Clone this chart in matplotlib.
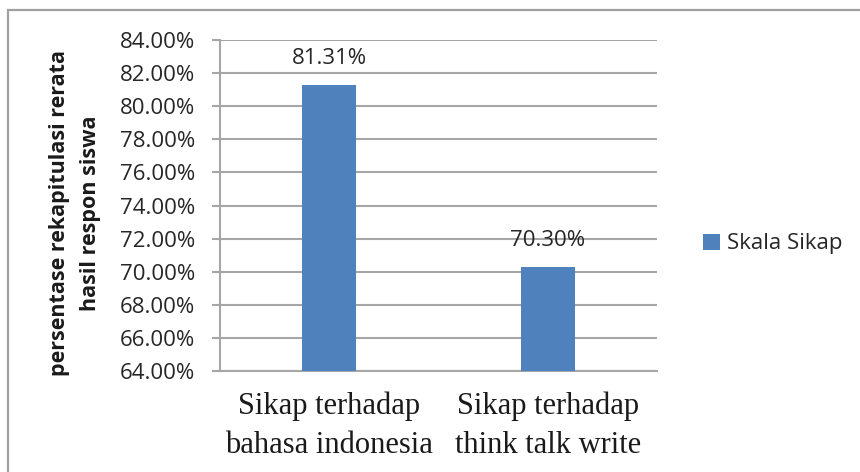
import matplotlib
matplotlib.use("Agg")
import matplotlib.pyplot as plt
from matplotlib.patches import Rectangle
from matplotlib.ticker import FuncFormatter, MultipleLocator

categories = ["Sikap terhadap\nbahasa indonesia", "Sikap terhadap\nthink talk write"]
values = [81.31, 70.30]
series_name = "Skala Sikap"
ylabel = "persentase rekapitulasi rerata\nhasil respon siswa"

fig = plt.figure(figsize=(8.6, 4.72), dpi=100)
fig.patch.set_facecolor("white")

# outer chart border
fig.patches.append(Rectangle((8/860, -0.05), 1.2, 1 - 10/472 + 0.05, transform=fig.transFigure,
                             fill=False, edgecolor="#a0a0a0", linewidth=1.6))

ax = fig.add_axes([220/860, 1 - 371/472, (657-220)/860, (371-40)/472])
x = list(range(len(categories)))
bars = ax.bar(x, values, width=0.247, color="#4F81BD", label=series_name, zorder=3)
ax.set_xlim(-0.5, len(categories) - 0.5)
ax.set_ylim(64, 84)
ax.yaxis.set_major_locator(MultipleLocator(2))
ax.yaxis.set_major_formatter(FuncFormatter(lambda v, p: f"{v:.2f}%"))
ax.grid(axis="y", color="#a6a6a6", linewidth=1.5, zorder=0)
ax.set_axisbelow(True)
for s in ["top", "right"]:
    ax.spines[s].set_visible(False)
ax.spines["left"].set_color("#a6a6a6")
ax.spines["left"].set_linewidth(1.5)
ax.spines["bottom"].set_color("#a6a6a6")
ax.spines["bottom"].set_linewidth(1.5)
ax.tick_params(axis="y", length=6, width=1.5, color="#a6a6a6", labelsize=16, pad=12,
               labelcolor="#262626")
for t in ax.get_yticklabels():
    t.set_fontfamily("Open Sans")
ax.set_xticks(x)
ax.set_xticklabels(categories, fontfamily="Liberation Serif", fontsize=22, color="#1a1a1a",
                   linespacing=1.45)
ax.tick_params(axis="x", length=0, pad=15)

for xi, v in zip(x, values):
    ax.annotate(f"{v:.2f}%", (xi, v), xytext=(0, 11), textcoords="offset points",
                ha="center", va="bottom", fontsize=16, fontfamily="Open Sans", color="#262626")

fig.text(75/860, 1 - 213/472, ylabel, rotation=90, ha="center", va="center",
         fontsize=15.5, fontweight="bold", fontfamily="Open Sans", color="#1a1a1a",
         linespacing=1.65)

leg = fig.legend(handles=[bars], labels=[series_name], loc="center left",
                 bbox_to_anchor=(683/860, 1 - 244/472), frameon=False,
                 prop={"family": "Open Sans", "size": 16}, handlelength=0.75,
                 handleheight=0.75, handletextpad=0.35)
for t in leg.get_texts():
    t.set_color("#262626")

fig.savefig("out.png", dpi=100, facecolor="white")
